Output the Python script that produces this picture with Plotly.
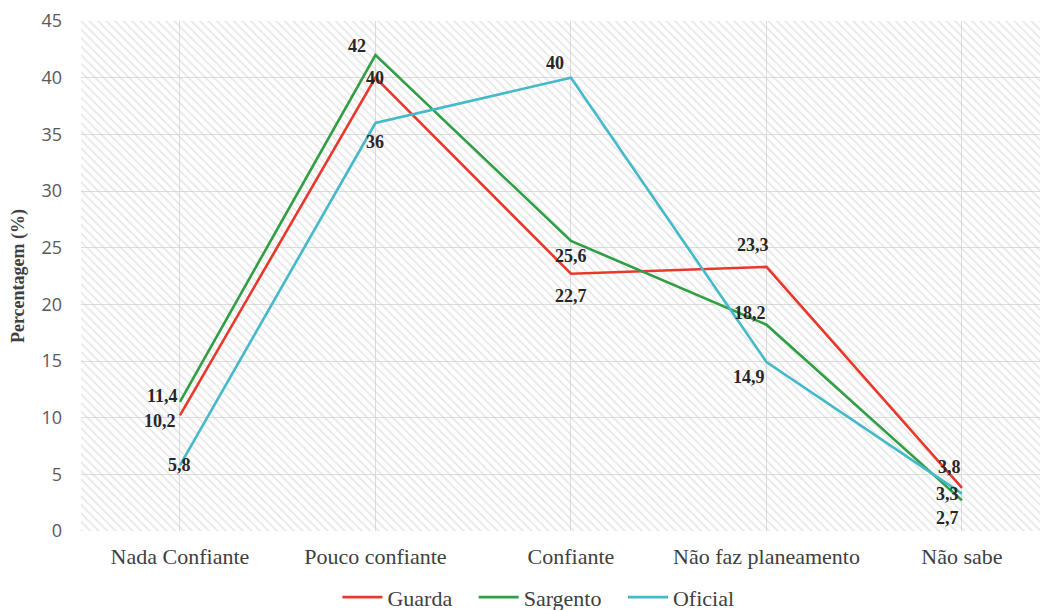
import plotly.graph_objects as go

categories = ["Nada Confiante", "Pouco confiante", "Confiante", "Não faz planeamento", "Não sabe"]
guarda = [10.2, 40, 22.7, 23.3, 3.8]
sargento = [11.4, 42, 25.6, 18.2, 2.7]
oficial = [5.8, 36, 40, 14.9, 3.3]
y_ticks = [0, 5, 10, 15, 20, 25, 30, 35, 40, 45]

NB = "\u00a0\u00a0\u00a0"
series = [
    ("Guarda", "Guarda" + NB, guarda, "#e8382c", [(-20, -6), (0, 0), (0, -22), (-13, 22), (-12, 21)]),
    ("Sargento", "Sargento" + NB, sargento, "#2f9e44", [(-17, 6), (-18, 9), (0, -15), (-16, 12), (-14, -18)]),
    ("Oficial", "Oficial", oficial, "#44b9c9", [(0, 0), (0, -19), (-16, 15), (-17, -15), (-14, 0)]),
]

xs = list(range(len(categories)))
fig = go.Figure()

# hatched background of plot area
fig.add_trace(go.Scatter(
    x=[-0.6, 4.6, 4.6, -0.6, -0.6], y=[0, 0, 45, 45, 0],
    mode="lines", line=dict(width=0), fill="toself",
    fillcolor="rgba(0,0,0,0)",
    fillpattern=dict(shape="\\", fgcolor="#cfcfcf", bgcolor="rgba(0,0,0,0)", size=6, solidity=0.3),
    hoverinfo="skip", showlegend=False,
))

annotations = []
for key, label, vals, color, offs in series:
    fig.add_trace(go.Scatter(
        x=xs, y=vals, mode="lines", name=label,
        line=dict(color=color, width=2.6),
    ))
    for i, v in enumerate(vals):
        annotations.append(dict(
            x=i, y=v, xref="x", yref="y", showarrow=False,
            text=f"<b>{str(v).replace('.', ',')}</b>",
            xshift=offs[i][0], yshift=offs[i][1],
            font=dict(family="Liberation Serif", size=18, color="#262626"),
        ))

# page body has an 8px margin, so the figure is sized/placed to compensate
fig.update_layout(
    width=1040, height=602,
    margin=dict(l=73, r=0, t=13, b=79),
    paper_bgcolor="white", plot_bgcolor="white",
    annotations=annotations,
    showlegend=True,
    legend=dict(
        orientation="h", xref="container", yref="container",
        x=0.51, y=0.056, xanchor="center", yanchor="top",
        font=dict(family="Liberation Serif", size=22, color="#404040"),
        itemwidth=40, tracegroupgap=0,
    ),
)

fig.update_xaxes(
    range=[-0.506, 4.44], tickmode="array", tickvals=xs, ticktext=categories,
    showgrid=True, gridcolor="#dcdcdc", gridwidth=1,
    zeroline=False, showline=False, ticks="", automargin=False,
    tickfont=dict(family="Liberation Serif", size=22, color="#404040"),
    ticklabelstandoff=10,
)
fig.update_yaxes(
    range=[0, 45], tickvals=y_ticks,
    showgrid=True, gridcolor="#dcdcdc", gridwidth=1,
    zeroline=False, showline=False, ticks="", automargin=False,
    tickfont=dict(family="Open Sans", size=18, color="#595959"),
    ticklabelstandoff=18,
    title=dict(text="<b>Percentagem (%)</b>", standoff=12,
               font=dict(family="Liberation Serif", size=18, color="#404040")),
)

fig.write_html("out.html")
